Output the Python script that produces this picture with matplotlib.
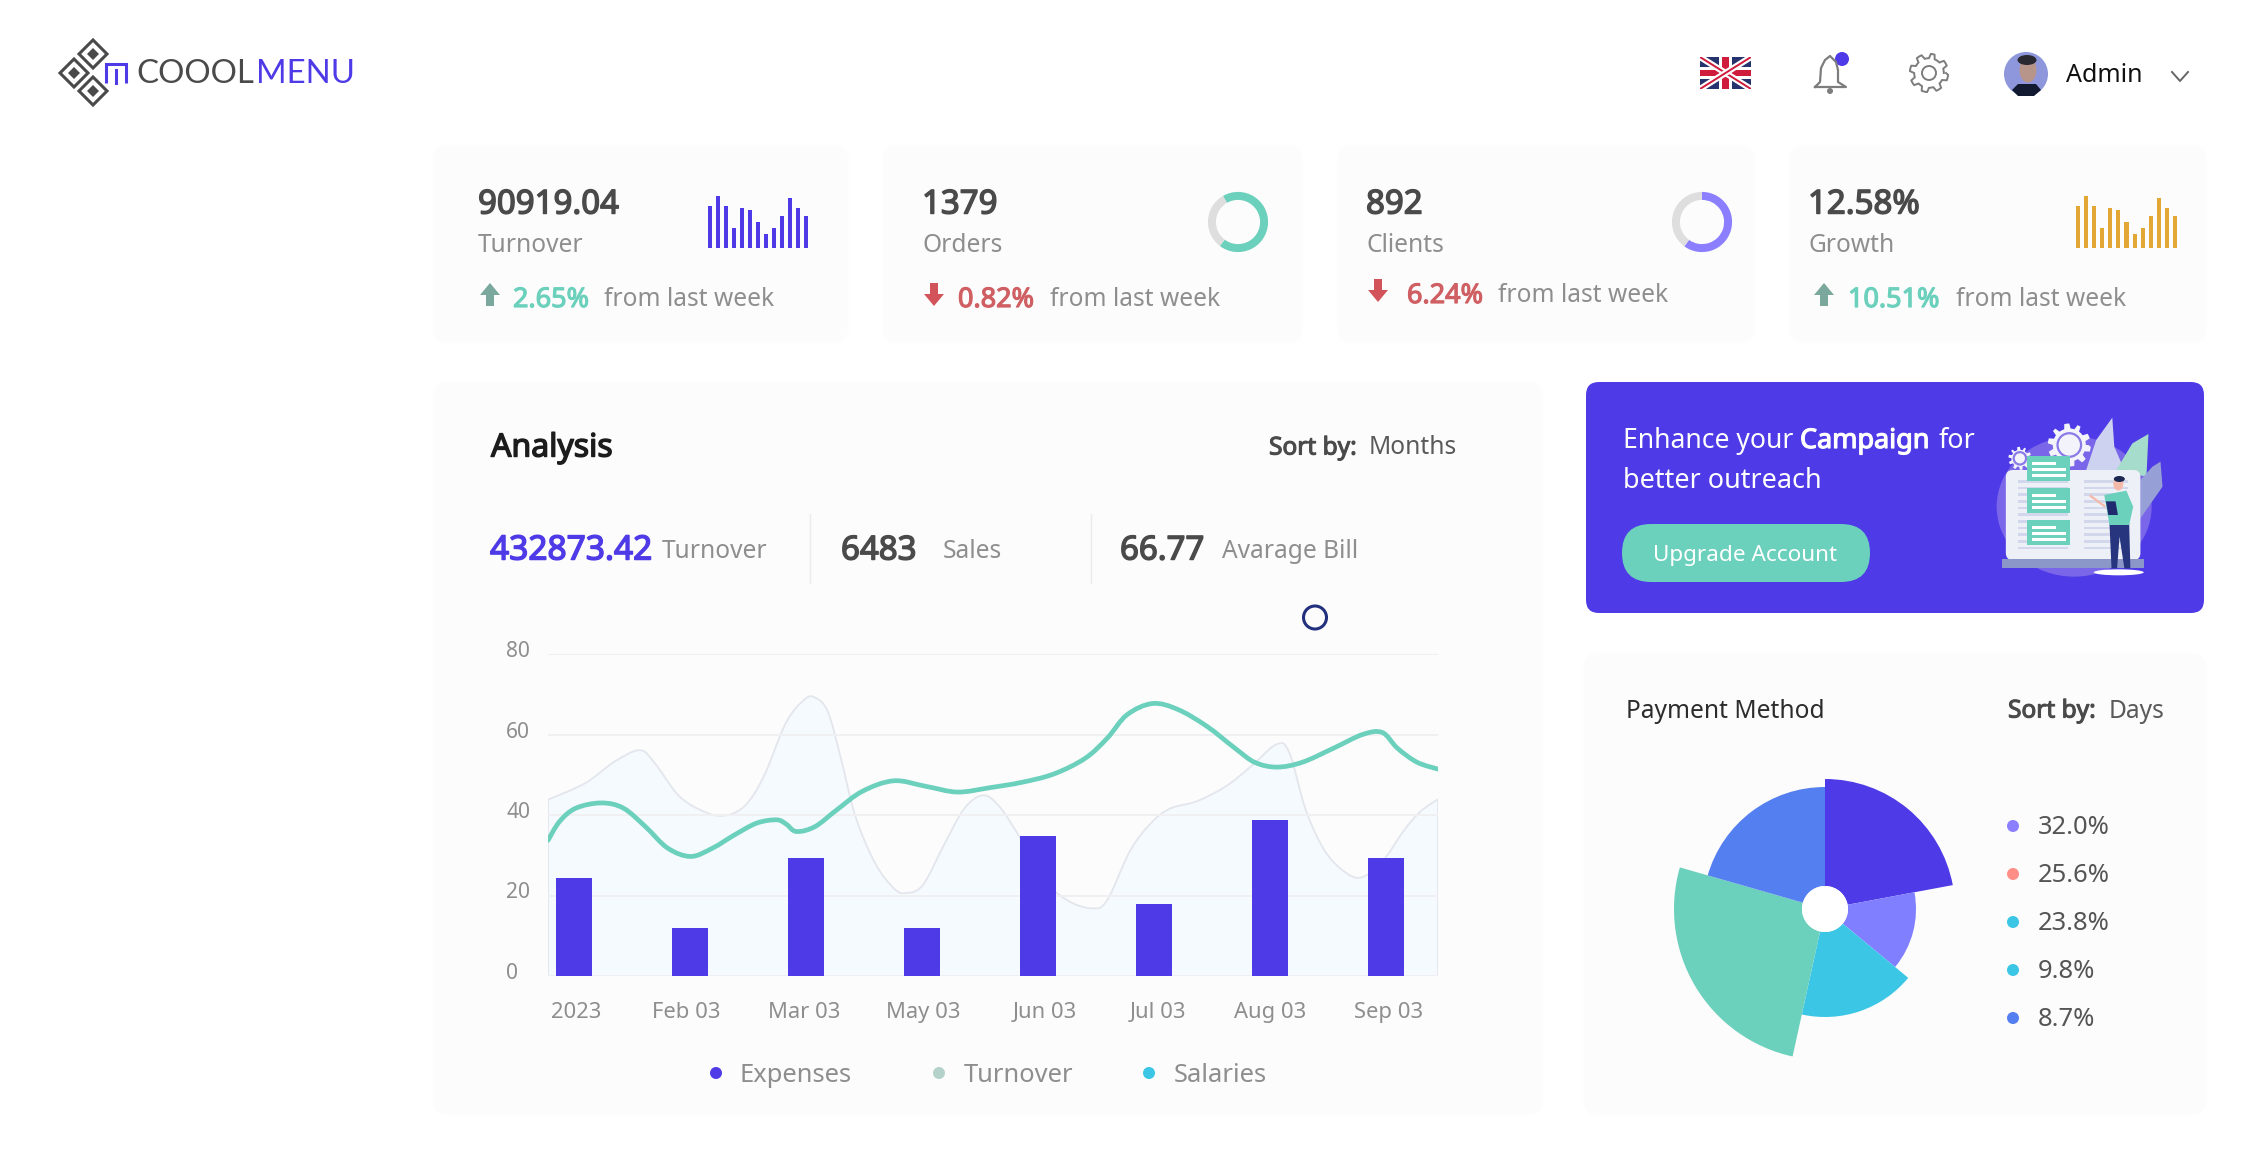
"""Coolmenu dashboard screenshot"""
import numpy as np
import matplotlib
matplotlib.use("Agg")
import matplotlib.pyplot as plt
import matplotlib.patheffects as pe
from matplotlib.path import Path
from matplotlib.patches import PathPatch, FancyBboxPatch, Circle, Ellipse, Polygon, Rectangle
from matplotlib.transforms import ScaledTranslation

plt.rcParams['font.family'] = ['Noto Sans', 'DejaVu Sans']

W, H = 2250, 1152

# top cards
card_values = ["90919.04", "1379", "892", "12.58%"]
card_names = ["Turnover", "Orders", "Clients", "Growth"]
card_changes = ["2.65%", "0.82%", "6.24%", "10.51%"]
card_up = [True, False, False, True]
spark_values = [42, 52, 42, 20, 40, 38, 26, 14, 20, 32, 50, 40, 32]
orders_ring = [247, 113]
clients_ring = [216, 144]

# analysis chart
months = ["2023", "Feb 03", "Mar 03", "May 03", "Jun 03", "Jul 03", "Aug 03", "Sep 03"]
month_pos = [0.025, 0.975, 1.99, 3.01, 4.06, 5.04, 6.0, 7.025]
y_ticks = [0, 20, 40, 60, 80]
expenses = [24.4, 11.9, 29.3, 11.9, 34.8, 17.9, 38.8, 29.3]
salaries_x = [-0.22, -0.12, 0.02, 0.24, 0.43, 0.62, 0.81, 1.01, 1.20, 1.39, 1.58, 1.75, 1.83,
              1.92, 2.08, 2.27, 2.49, 2.76, 3.04, 3.31, 3.59, 3.86, 4.14, 4.41, 4.60, 4.77,
              4.99, 5.21, 5.46, 5.70, 5.87, 6.06, 6.28, 6.55, 6.80, 6.97, 7.10, 7.27, 7.45]
salaries_y = [33.7, 38.4, 41.7, 43.0, 41.7, 37.1, 31.8, 29.7, 31.8, 35.1, 38.0, 38.8, 37.8,
              35.9, 37.1, 41.3, 45.9, 48.5, 47.1, 45.7, 46.8, 48.1, 50.2, 54.1, 59.1, 64.9,
              67.7, 66.2, 62.0, 56.6, 53.1, 51.9, 53.1, 56.6, 60.0, 60.5, 56.6, 53.1, 51.4]
turnover_x = [-0.22, 0.10, 0.35, 0.57, 0.70, 0.90, 1.09, 1.28, 1.47, 1.64, 1.83, 1.99, 2.08,
              2.19, 2.30, 2.43, 2.60, 2.76, 2.86, 3.01, 3.20, 3.37, 3.53, 3.67, 3.84, 4.03,
              4.25, 4.47, 4.60, 4.80, 4.99, 5.15, 5.37, 5.62, 5.84, 6.06, 6.17, 6.31, 6.47,
              6.64, 6.79, 6.97, 7.16, 7.30, 7.45]
turnover_y = [43.8, 47.9, 53.2, 56.1, 52.9, 45.0, 41.3, 39.8, 42.1, 49.6, 62.9, 68.7, 69.2,
              65.8, 54.6, 39.6, 28.0, 21.8, 20.6, 22.6, 33.0, 41.7, 44.9, 42.1, 34.7, 24.7,
              18.9, 16.8, 18.9, 31.3, 38.4, 41.7, 43.4, 47.1, 52.1, 57.6, 55.4, 41.3, 31.3,
              26.0, 24.5, 28.4, 36.3, 40.9, 43.9]
legend_names = ["Expenses", "Turnover", "Salaries"]
legend_colors = ["#4e3ae6", "#b5d2ca", "#3bc6e6"]

# payment method polar area
pie_angles = [79.4, 50.2, 62.8, 93.6, 74.0]
pie_radius = [130, 91, 108, 151, 122]
pie_colors = ["#4e3ae6", "#7f7fff", "#3bc6e6", "#6bd0bc", "#547ff0"]
pie_labels = ["32.0%", "25.6%", "23.8%", "9.8%", "8.7%"]
pie_dots = ["#8b7fff", "#ff8f86", "#3bc6e6", "#3bc6e6", "#547ff0"]

PURPLE = "#4e3ae6"
TEAL = "#6bd0bc"
DARK = "#4a4a4a"
GREY = "#8e8e8e"


def px_axes(x0, y0, x1, y1, **kw):
    return fig.add_axes([x0 / W, 1 - y1 / H, (x1 - x0) / W, (y1 - y0) / H], **kw)


def fs(px):
    # font size from a pixel em size, figure is at dpi 100
    return px * 0.72


def smooth_path(xs, ys, close_to=None):
    # catmull-rom through the points that were read, same look as the chart's smooth lines
    p = np.column_stack([xs, ys])
    verts = [p[0]]
    codes = [Path.MOVETO]
    for i in range(len(p) - 1):
        p0 = p[max(i - 1, 0)]
        p3 = p[min(i + 2, len(p) - 1)]
        verts += [p[i] + (p[i + 1] - p0) / 6, p[i + 1] - (p3 - p[i]) / 6, p[i + 1]]
        codes += [Path.CURVE4] * 3
    if close_to is not None:
        verts += [(xs[-1], close_to), (xs[0], close_to), p[0]]
        codes += [Path.LINETO, Path.LINETO, Path.LINETO]
    return Path(verts, codes)


def card(x0, y0, x1, y1, r=14):
    for grow, alpha in [(4, 0.004), (2, 0.006)]:
        bg.add_patch(FancyBboxPatch((x0 - grow, y0 - grow + 1), x1 - x0 + 2 * grow, y1 - y0 + 2 * grow,
                                    boxstyle=f"round,pad=0,rounding_size={r + grow}",
                                    fc="black", ec="none", alpha=alpha))
    bg.add_patch(FancyBboxPatch((x0, y0), x1 - x0, y1 - y0, boxstyle=f"round,pad=0,rounding_size={r}",
                                fc="#fcfcfc", ec="none"))


def txt(x, y, s, size, color=DARK, bold=False, ha="left", va="center"):
    t = bg.text(x, y, s, fontsize=fs(size), color=color, ha=ha, va=va)
    if bold:
        # Noto Sans comes without a bold face here, thicken the outline
        t.set_path_effects([pe.withStroke(linewidth=size * 0.032, foreground=color)])
    return t


def arrow(x, y0, y1, up, color):
    # block arrow, y0 top y1 bottom in pixels
    if up:
        pts = [(x, y0), (x + 10, y0 + 12), (x + 4, y0 + 12), (x + 4, y1), (x - 4, y1), (x - 4, y0 + 12), (x - 10, y0 + 12)]
    else:
        pts = [(x, y1), (x + 10, y1 - 12), (x + 4, y1 - 12), (x + 4, y0), (x - 4, y0), (x - 4, y1 - 12), (x - 10, y1 - 12)]
    bg.add_patch(Polygon(pts, fc=color, ec="none"))


def spark(x0, x1, color):
    ax = px_axes(x0, 192, x1, 248)
    ax.bar(range(len(spark_values)), spark_values, width=0.5, color=color)
    ax.set_xlim(-0.25, len(spark_values) - 0.75)
    ax.set_ylim(0, 56)
    ax.axis("off")


def ring(cx, cy, values, color, start):
    ax = px_axes(cx - 32, cy - 32, cx + 32, cy + 32)
    ax.pie(values, colors=[color, "#dedede"], startangle=start, counterclock=False, radius=0.94,
           wedgeprops={"width": 0.25, "linewidth": 0})
    ax.set_xlim(-1, 1)
    ax.set_ylim(-1, 1)


def gear(cx, cy, r, teeth, depth):
    t = np.linspace(0, 2 * np.pi, teeth * 8 + 1)
    rr = r + depth * np.sign(np.sin(teeth * t))
    return np.column_stack([cx + rr * np.cos(t), cy + rr * np.sin(t)])


fig = plt.figure(figsize=(W / 100, H / 100), dpi=100, facecolor="white")
bg = fig.add_axes([0, 0, 1, 1])
bg.set_xlim(0, W)
bg.set_ylim(H, 0)
bg.axis("off")

# logo
for cy, cx in [(54, 93), (73, 74), (91, 93)]:
    bg.add_patch(Polygon([(cx, cy - 14), (cx + 14, cy), (cx, cy + 14), (cx - 14, cy)], fc="none", ec=DARK, lw=2.2))
    bg.add_patch(Polygon([(cx, cy - 6), (cx + 6, cy), (cx, cy + 6), (cx - 6, cy)], fc=DARK, ec="none"))
bg.add_patch(Polygon([(106, 83), (106, 64), (126, 64), (126, 83)], closed=False, fc="none", ec=PURPLE, lw=2.2))
bg.plot([116, 116], [70, 83], color=PURPLE, lw=2.2)
bg.text(136, 74, "COOOL", fontsize=fs(33), color=DARK, family="Lato", va="center")
bg.text(256, 74, "MENU", fontsize=fs(33), color=PURPLE, family="Lato", va="center")

# header right
flag = px_axes(1700, 57, 1751, 89)
flag.set_xlim(0, 51)
flag.set_ylim(32, 0)
flag.axis("off")
flag.add_patch(Rectangle((0, 0), 51, 32, fc="#27336e", ec="none"))
for a, b in [((0, 0), (51, 32)), ((51, 0), (0, 32))]:
    flag.plot([a[0], b[0]], [a[1], b[1]], color="white", lw=4.5, solid_capstyle="butt")
    flag.plot([a[0], b[0]], [a[1], b[1]], color="#cf1b3c", lw=1.4, solid_capstyle="butt")
flag.add_patch(Rectangle((19, 0), 13, 32, fc="white", ec="none"))
flag.add_patch(Rectangle((0, 10), 51, 12, fc="white", ec="none"))
flag.add_patch(Rectangle((22, 0), 7, 32, fc="#cf1b3c", ec="none"))
flag.add_patch(Rectangle((0, 13), 51, 6, fc="#cf1b3c", ec="none"))

bell_pts = [(1815, 87), (1820, 82), (1821, 68), (1825, 60), (1830, 56), (1836, 62), (1838, 70), (1838, 82), (1846, 87), (1815, 87)]
bg.plot(*zip(*bell_pts), color="#7d7d7d", lw=1.6)
bg.add_patch(Circle((1830, 91), 3, fc="#7d7d7d", ec="none"))
bg.add_patch(Circle((1842, 59), 8.5, fc="white", ec="none"))
bg.add_patch(Circle((1842, 59), 7, fc=PURPLE, ec="none"))

bg.plot(*gear(1929, 73, 17, 8, 2.2).T, color="#7d7d7d", lw=1.4)
bg.add_patch(Circle((1929, 73), 7, fc="none", ec="#7d7d7d", lw=1.4))

bg.add_patch(Circle((2026, 74), 22, fc="#8f97dc", ec="none"))
bg.add_patch(Ellipse((2028, 70), 17, 25, fc="#b8958a", ec="none"))
bg.add_patch(Ellipse((2027, 60), 19, 10, fc="#2a2830", ec="none"))
bg.add_patch(Polygon([(2012, 90), (2018, 84), (2036, 84), (2041, 90), (2034, 96), (2018, 96)], fc="#111a30", ec="none"))
txt(2066, 75, "Admin", 25, color="#111111")
bg.plot([2172, 2180, 2188], [72, 81, 72], color="#666666", lw=1.4)

# stat cards
card_boxes = [(435, 846), (885, 1300), (1340, 1752), (1792, 2204)]
value_x = [478, 922, 1366, 1808]
arrow_x = [490, 934, 1378, 1824]
change_x = [513, 958, 1407, 1848]
from_x = [604, 1050, 1498, 1956]
row_y = [300, 300, 296, 300]
for i in range(4):
    card(card_boxes[i][0], 146, card_boxes[i][1], 340)
    txt(value_x[i], 205, card_values[i], 33, bold=True)
    txt(value_x[i], 245, card_names[i], 24.5, color=GREY)
    up = card_up[i]
    arrow(arrow_x[i], row_y[i] - 17, row_y[i] + 6, up, "#7aa89c" if up else "#d2545a")
    txt(change_x[i], row_y[i], card_changes[i], 27, color=TEAL if up else "#cf5f62", bold=True)
    txt(from_x[i], row_y[i], "from last week", 24.5, color=GREY)

spark(708, 808, PURPLE)
spark(2076, 2177, "#e3a735")
ring(1238, 222, orders_ring, TEAL, 120)
ring(1702, 222, clients_ring, "#8b7fff", 90)

# analysis card
card(435, 383, 1541, 1112)
txt(491, 448, "Analysis", 32, color="#1c1c1c", bold=True)
txt(1269, 448, "Sort by:", 24.5, bold=True)
txt(1369, 448, "Months", 24.5, color="#5a5a5a")
txt(490, 551, "432873.42", 33.5, color=PURPLE, bold=True)
txt(662, 551, "Turnover", 24.5, color=GREY)
txt(841, 551, "6483", 33, bold=True)
txt(943, 551, "Sales", 24.5, color=GREY)
txt(1120, 551, "66.77", 33, bold=True)
txt(1222, 551, "Avarage Bill", 24.5, color=GREY)
for x in [810, 1091]:
    bg.plot([x, x], [514, 583], color="#ececec", lw=1)
bg.add_patch(Circle((1315, 617.5), 11.5, fc="none", ec="#23307e", lw=2.2))

chart = px_axes(548, 654, 1438, 976)
chart.patch.set_visible(False)
chart.set_xlim(-0.22, 7.45)
chart.set_ylim(0, 80)
chart.add_patch(PathPatch(smooth_path(turnover_x, turnover_y, close_to=0), fc="#f5faff", ec="#e3e6ec", lw=1.3, zorder=1))
chart.set_yticks(y_ticks)
chart.set_yticklabels([str(t) for t in y_ticks], ha="left", color=GREY, fontsize=fs(21))
chart.grid(axis="y", color="#f0f0f2", lw=1.4, zorder=1.5)
chart.set_axisbelow(False)
chart.bar(range(len(expenses)), expenses, width=0.31, color=PURPLE, zorder=3)
chart.add_patch(PathPatch(smooth_path(salaries_x, salaries_y), fc="none", ec=TEAL, lw=3.4, zorder=4, capstyle="round"))
chart.set_xticks(month_pos)
chart.set_xticklabels(months, color=GREY, fontsize=fs(22))
chart.tick_params(axis="both", length=0)
chart.tick_params(axis="y", pad=30)
chart.tick_params(axis="x", pad=19)
nudge = ScaledTranslation(0, 5 / 100, fig.dpi_scale_trans)
for lab in chart.get_yticklabels():
    lab.set_transform(lab.get_transform() + nudge)
for s in chart.spines.values():
    s.set_visible(False)

for x_dot, x_txt, name, c in zip([716, 939, 1149], [740, 964, 1174], legend_names, legend_colors):
    bg.add_patch(Circle((x_dot, 1073), 6, fc=c, ec="none"))
    txt(x_txt, 1075, name, 25.5, color=GREY)

# banner
bg.add_patch(FancyBboxPatch((1586, 382), 618, 231, boxstyle="round,pad=0,rounding_size=13", fc=PURPLE, ec="none"))
txt(1623, 441, "Enhance your", 26.5, color="white")
txt(1800, 441, "Campaign", 27, color="white", bold=True)
txt(1939, 441, "for", 27, color="white")
txt(1623, 481, "better outreach", 27, color="white")
bg.add_patch(FancyBboxPatch((1622, 524), 248, 58, boxstyle="round,pad=0,rounding_size=29", fc=TEAL, ec="none"))
txt(1745, 555, "Upgrade Account", 22.5, color="white", ha="center")


def il(px, py):
    return 1590 + px / 2.489, 380 + py / 3


def il_rect(p0, p1, color):
    x0, y0 = il(*p0)
    x1, y1 = il(*p1)
    bg.add_patch(Rectangle((x0, y0), x1 - x0, y1 - y0, fc=color, ec="none"))


cx, cy = il(1205, 380)
bg.add_patch(Ellipse((cx, cy), 155, 140, fc="#7a66e8", ec="none"))
for pts, c in [([(1235, 270), (1260, 180), (1300, 113), (1305, 200), (1330, 270)], "#cdd2f0"),
               ([(1310, 270), (1350, 190), (1390, 162), (1385, 290)], "#a6dccb"),
               ([(1370, 300), (1400, 260), (1420, 245), (1425, 320), (1370, 415)], "#97a0d6")]:
    bg.add_patch(Polygon([il(*p) for p in pts], fc=c, ec="none"))
for (gx, gy), r, d in [(il(1193, 195), 19, 2.5), (il(1070, 235), 10, 1.5)]:
    bg.add_patch(Polygon(gear(gx, gy, r, 10, d), fc="#f3f4fb", ec="none"))
    bg.add_patch(Circle((gx, gy), r * 0.62, fc="#f3f4fb", ec="#8a7ae8", lw=1.6))
x0, y0 = il(1035, 270)
x1, y1 = il(1370, 540)
bg.add_patch(FancyBboxPatch((x0, y0), x1 - x0, y1 - y0, boxstyle="round,pad=0,rounding_size=7", fc="#eef0f8", ec="none"))
for py in range(300, 520, 20):
    il_rect((1065, py), (1190, py + 8), "#d3d7ec")
    il_rect((1230, py), (1340, py + 8), "#d3d7ec")
il_rect((1025, 538), (1380, 563), "#8c97c9")
for py in [228, 324, 420]:
    il_rect((1088, py), (1195, py + 74), TEAL)
    il_rect((1100, py + 18), (1160, py + 26), "white")
    il_rect((1100, py + 36), (1184, py + 44), "white")
    il_rect((1100, py + 54), (1184, py + 62), "white")
sx, sy = il(1316, 577)
bg.add_patch(Ellipse((sx, sy), 50, 6, fc="white", ec="none"))
bg.add_patch(Polygon([il(*p) for p in [(1293, 430), (1342, 430), (1345, 565), (1330, 565), (1318, 470), (1312, 565), (1298, 565)]], fc="#27357f", ec="none"))
bg.add_patch(Polygon([il(*p) for p in [(1280, 345), (1335, 332), (1352, 380), (1342, 435), (1293, 435)]], fc=TEAL, ec="none"))
hx, hy = il(1315, 312)
bg.add_patch(Ellipse((hx, hy), 10, 13, fc="#f4b9a8", ec="none"))
bg.add_patch(Ellipse((hx + 1, hy - 5), 11, 6, fc="#1c2752", ec="none"))
bg.plot(*zip(il(1246, 348), il(1280, 378)), color="#f4b9a8", lw=1.6)
bg.add_patch(Polygon([il(*p) for p in [(1284, 364), (1308, 364), (1314, 405), (1290, 405)]], fc="#1f2b6e", ec="none"))

# payment card
card(1586, 654, 2204, 1112)
txt(1626, 711, "Payment Method", 24.5, color="#2c2c2c")
txt(2008, 711, "Sort by:", 24.5, bold=True)
txt(2109, 711, "Days", 24.5, color="#5a5a5a")

polar = px_axes(1825 - 160, 909 - 160, 1825 + 160, 909 + 160, projection="polar")
polar.set_theta_zero_location("N")
polar.set_theta_direction(-1)
starts = np.radians(np.concatenate([[0], np.cumsum(pie_angles)[:-1]]))
HOLE = 23
polar.bar(starts, np.array(pie_radius) - HOLE, width=np.radians(pie_angles), bottom=HOLE,
          align="edge", color=pie_colors, linewidth=0)
polar.set_rlim(0, 160)
polar.axis("off")
hole_ax = px_axes(1825 - 25, 909 - 25, 1825 + 25, 909 + 25)
hole_ax.set_xlim(-25, 25)
hole_ax.set_ylim(-25, 25)
hole_ax.axis("off")
hole_ax.add_patch(Circle((0, 0), HOLE, fc="white", ec="none"))

for y, label, c in zip([826, 874, 922, 970, 1018], pie_labels, pie_dots):
    bg.add_patch(Circle((2013, y), 6, fc=c, ec="none"))
    txt(2038, y + 2, label, 25.5, color="#555555")

fig.savefig("out.png", dpi=100)
